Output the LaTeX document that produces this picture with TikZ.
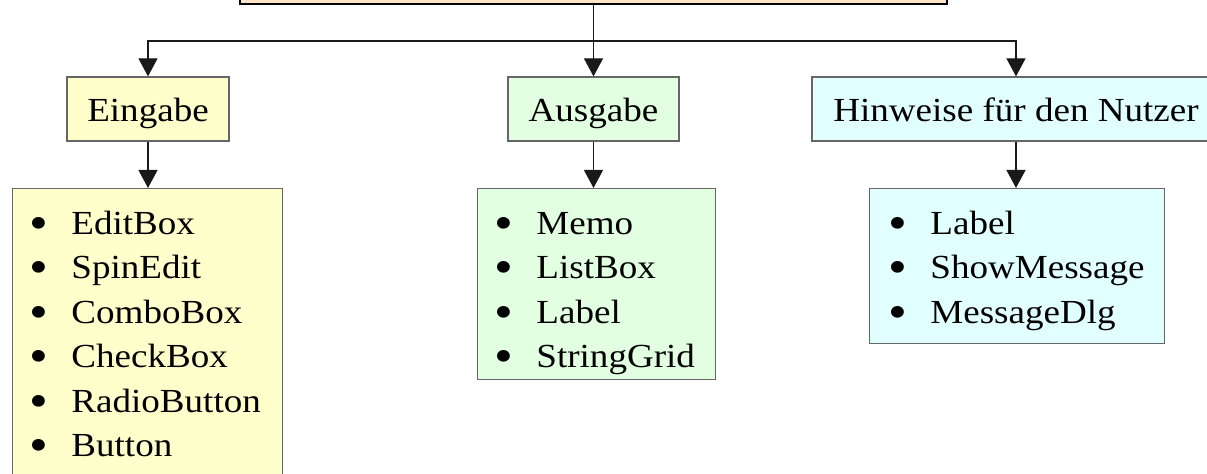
\documentclass[tikz,border=0pt]{standalone}
\usepackage{fontspec}
\setmainfont{Liberation Serif}[FakeStretch=1.1]
\usetikzlibrary{arrows.meta,positioning}
\definecolor{wurzelfarbe}{RGB}{255,228,200}
\definecolor{eingabefarbe}{RGB}{255,255,204}
\definecolor{ausgabefarbe}{RGB}{226,255,226}
\definecolor{hinweisfarbe}{RGB}{226,255,255}
\newcommand{\punkt}[1]{\makebox[21pt][l]{\smash{\raisebox{-0.15em}{\scalebox{1.45}{\textbullet}}}}#1}

\begin{document}
\begin{tikzpicture}[x=0.5pt,y=-0.5pt,
    every node/.style={font=\fontsize{16.85}{22.25}\selectfont},
    kasten/.style={draw=black!60, line width=0.6pt, rectangle, inner sep=0pt},
    kopf/.style={kasten, minimum height=32pt, text height=13pt, text depth=0pt},
    liste/.style={kasten, anchor=north west},
    punkte/.style={inner sep=0pt, align=left},
    pfeil/.style={-{Triangle[length=9pt,width=9.5pt]}, line width=0.6pt, black!90}]
    \useasboundingbox (0,0) rectangle (1207,474);
    % oberer Kasten, oben angeschnitten
    \node[kasten, draw=black, line width=1pt, fill=wurzelfarbe, minimum width=353.5pt,
        minimum height=30pt, anchor=south] (wurzel) at (593.5,5) {};
    % die drei Kategorien
    \node[kopf, fill=eingabefarbe, minimum width=81pt] (eingabe) at (148,109) {Eingabe};
    \node[kopf, fill=ausgabefarbe, minimum width=85.5pt] (ausgabe) at (593.5,109) {Ausgabe};
    \node[kopf, fill=hinweisfarbe, minimum width=204pt] (hinweise) at (1016,109) {Hinweise für den Nutzer};
    % Komponentenlisten
    \node[liste, fill=eingabefarbe, minimum width=135pt, minimum height=155pt] (eingabeListe) at (12,188) {};
    \node[liste, fill=ausgabefarbe, minimum width=119pt, minimum height=95.5pt] (ausgabeListe) at (477,188) {};
    \node[liste, fill=hinweisfarbe, minimum width=147.5pt, minimum height=77.5pt] (hinweiseListe) at (869,188) {};
    \node[punkte, below right=7.4pt and 8.5pt of eingabeListe.north west] (eingabePunkte)
        {\strut\punkt{EditBox}\\ \punkt{SpinEdit}\\ \punkt{ComboBox}\\ \punkt{CheckBox}\\ \punkt{RadioButton}\\ \punkt{Button}};
    \node[punkte, below right=7.4pt and 8.5pt of ausgabeListe.north west] (ausgabePunkte)
        {\strut\punkt{Memo}\\ \punkt{ListBox}\\ \punkt{Label}\\ \punkt{StringGrid}};
    \node[punkte, below right=7.4pt and 9.5pt of hinweiseListe.north west] (hinweisePunkte)
        {\strut\punkt{Label}\\ \punkt{ShowMessage}\\ \punkt{MessageDlg}};
    % Verbindungen
    \coordinate (gabel) at (593.5,41);
    \draw[pfeil] (wurzel.south) -- (ausgabe.north);
    \draw[pfeil] (gabel) -| (eingabe.north);
    \draw[pfeil] (gabel) -| (hinweise.north);
    \draw[pfeil] (eingabe.south) -- (eingabe.south |- eingabeListe.north);
    \draw[pfeil] (ausgabe.south) -- (ausgabe.south |- ausgabeListe.north);
    \draw[pfeil] (hinweise.south) -- (hinweise.south |- hinweiseListe.north);
\end{tikzpicture}
\end{document}
